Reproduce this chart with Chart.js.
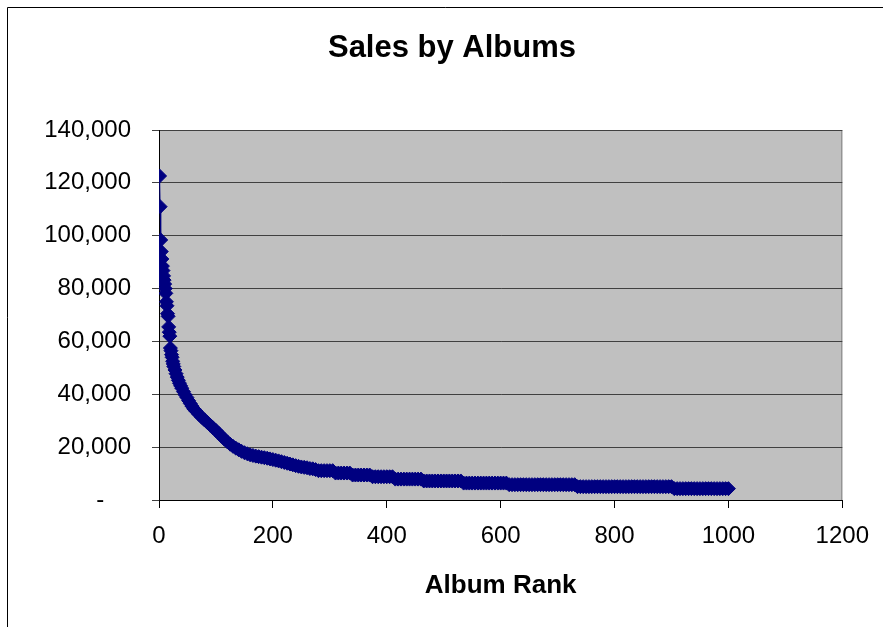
<!DOCTYPE html>
<html>
<head>
<meta charset="utf-8">
<script src="https://cdn.jsdelivr.net/npm/chart.js@4/dist/chart.umd.min.js"></script>
<style>
  html, body { margin: 0; padding: 0; background: #fff; }
  canvas { display: block; }
</style>
</head>
<body>
<canvas id="salesChart" width="883" height="627"></canvas>
<script>
// album rank (x) and sales (y)
const ranks = [
    1, 2, 3, 4, 5, 6, 7, 8, 9, 10, 11, 12, 13, 14, 15, 16, 17, 18, 19, 20,
    21, 22, 23, 24, 25, 26, 28, 30, 32, 34, 36, 38, 40, 43, 46, 49, 52, 55, 58, 61,
    65, 70, 75, 80, 85, 90, 95, 100, 105, 110, 115, 120, 125, 130, 135, 140, 145,
    150, 155, 160, 165, 170, 175, 180, 185, 190, 195, 200, 205, 210, 215, 220, 225, 230, 235, 240, 245,
    250, 255, 260, 265, 270, 275, 280, 285, 290, 295, 300, 305, 310, 315, 320, 325, 330, 335, 340, 345,
    350, 355, 360, 365, 370, 375, 380, 385, 390, 395, 400, 405, 410, 415, 420, 425, 430, 435, 440, 445,
    450, 455, 460, 465, 470, 475, 480, 485, 490, 495, 500, 505, 510, 515, 520, 525, 530, 535, 540, 545,
    550, 555, 560, 565, 570, 575, 580, 585, 590, 595, 600, 605, 610, 615, 620, 625, 630, 635, 640, 645,
    650, 655, 660, 665, 670, 675, 680, 685, 690, 695, 700, 705, 710, 715, 720, 725, 730, 735, 740, 745,
    750, 755, 760, 765, 770, 775, 780, 785, 790, 795, 800, 805, 810, 815, 820, 825, 830, 835, 840, 845,
    850, 855, 860, 865, 870, 875, 880, 885, 890, 895, 900, 905, 910, 915, 920, 925, 930, 935, 940, 945,
    950, 955, 960, 965, 970, 975, 980, 985, 990, 995, 1000
];
const sales = [
    122600, 111000, 98400, 94000, 91200, 88500, 86800, 84800, 83200, 81700,
    80000, 78200, 75000, 73500, 70500, 69500, 65500, 63500, 62000, 57500,
    56500, 55000, 54000, 52500, 51500, 50500, 49200, 47800, 46500, 45300,
    44200, 43200, 42300, 41000, 39800, 38800, 37600, 36500, 35500, 34500,
    33600, 32400, 31300, 30300, 29300, 28300, 27300, 26300, 25200, 24100,
    23000, 22000, 21100, 20300, 19600, 19000, 18400,
    17900, 17500, 17100, 16850, 16600, 16400, 16200, 16000, 15800, 15550,
    15300, 15050, 14800, 14500, 14200, 13900, 13600, 13300, 13000, 12750,
    12500, 12350, 12200, 11900, 11800, 11500, 11100, 11100, 11100, 11100,
    11100, 11100, 10200, 10200, 10200, 10200, 10200, 10200, 9450, 9450,
    9450, 9450, 9450, 9450, 9450, 8800, 8800, 8800, 8800, 8800,
    8800, 8800, 8800, 7900, 7900, 7900, 7900, 7900, 7900, 7900,
    7900, 7900, 7900, 7200, 7200, 7200, 7200, 7200, 7200, 7200,
    7200, 7200, 7200, 7200, 7200, 7200, 7200, 6400, 6400, 6400,
    6400, 6400, 6400, 6400, 6400, 6400, 6400, 6400, 6400, 6400,
    6400, 6400, 6400, 5800, 5800, 5800, 5800, 5800, 5800, 5800,
    5800, 5800, 5800, 5800, 5800, 5800, 5800, 5800, 5800, 5800,
    5800, 5800, 5800, 5800, 5800, 5800, 5800, 5050, 5050, 5050,
    5050, 5050, 5050, 5050, 5050, 5050, 5050, 5050, 5050, 5050,
    5050, 5050, 5050, 5050, 5050, 5050, 5050, 5050, 5050, 5050,
    5050, 5050, 5050, 5050, 5050, 5050, 5050, 5050, 5050, 5050,
    5050, 4300, 4300, 4300, 4300, 4300, 4300, 4300, 4300, 4300,
    4300, 4300, 4300, 4300, 4300, 4300, 4300, 4300, 4300, 4300, 4300
];
const xTickValues = [0, 200, 400, 600, 800, 1000, 1200];
const yTickValues = [0, 20000, 40000, 60000, 80000, 100000, 120000, 140000];

const FONT = "'Liberation Sans', Arial, sans-serif";

// grey plot area, its border and the outer chart frame
const excelFrame = {
    id: "excelFrame",
    afterLayout(chart) {
        // title is centred on the whole chart frame (x=7 .. off-canvas), not the canvas
        chart.titleBlock.left = 21;
        chart.titleBlock.right = 883;
    },
    beforeDraw(chart) {
        const { ctx, chartArea: a } = chart;
        ctx.save();
        ctx.fillStyle = "#c0c0c0";
        ctx.fillRect(a.left, a.top, a.right - a.left, a.bottom - a.top);
        ctx.strokeStyle = "#808080";
        ctx.lineWidth = 1;
        ctx.strokeRect(a.left + 0.5, a.top + 0.5, a.right - a.left - 1, a.bottom - a.top);
        ctx.strokeStyle = "#000";
        ctx.beginPath();
        ctx.moveTo(7.5, chart.height);
        ctx.lineTo(7.5, 7.5);
        ctx.lineTo(chart.width, 7.5);
        ctx.stroke();
        ctx.restore();
    }
};

const ctx = document.getElementById("salesChart").getContext("2d");
new Chart(ctx, {
    type: "scatter",
    data: {
        datasets: [{
            label: "Sales",
            data: ranks.map((r, i) => ({ x: r, y: sales[i] })),
            showLine: true,
            borderColor: "#000080",
            borderWidth: 1,
            backgroundColor: "#000080",
            pointStyle: "rectRot",
            pointRadius: 7,
            pointBorderWidth: 1,
            pointBorderColor: "#000080",
            pointBackgroundColor: "#000080",
        }],
    },
    options: {
        responsive: false,
        animation: false,
        layout: { padding: { left: 20, right: 40, top: 0, bottom: 0 } },
        plugins: {
            legend: { display: false },
            tooltip: { enabled: false },
            title: {
                display: true,
                text: "Sales by Albums",
                color: "#000",
                font: { family: FONT, size: 31, weight: "bold" },
                padding: { top: 30, bottom: 62.8 },
            },
        },
        scales: {
            x: {
                type: "linear",
                min: 0,
                max: 1200,
                afterBuildTicks: s => { s.ticks = xTickValues.map(v => ({ value: v })); },
                afterFit: s => { s.height = 127; },
                grid: { drawOnChartArea: false, drawTicks: true, tickLength: 8, color: "#000" },
                border: { color: "#000", width: 1 },
                ticks: {
                    color: "#000",
                    padding: 14,
                    maxRotation: 0,
                    font: { family: FONT, size: 24 },
                    callback: v => String(v),
                },
                title: {
                    display: true,
                    text: "Album Rank",
                    color: "#000",
                    font: { family: FONT, size: 26, weight: "bold" },
                    padding: { top: 0, bottom: 26 },
                },
            },
            y: {
                type: "linear",
                min: 0,
                max: 140000,
                afterBuildTicks: s => { s.ticks = yTickValues.map(v => ({ value: v })); },
                afterFit: s => { s.width = 139; },
                grid: { drawTicks: true, tickLength: 7, color: "#404040" },
                border: { color: "#000", width: 1 },
                ticks: {
                    color: "#000",
                    padding: 21,
                    font: { family: FONT, size: 24 },
                    callback: v => v === 0 ? "-    " : v.toLocaleString("en-US"),
                },
            },
        },
    },
    plugins: [excelFrame],
});
</script>
</body>
</html>
